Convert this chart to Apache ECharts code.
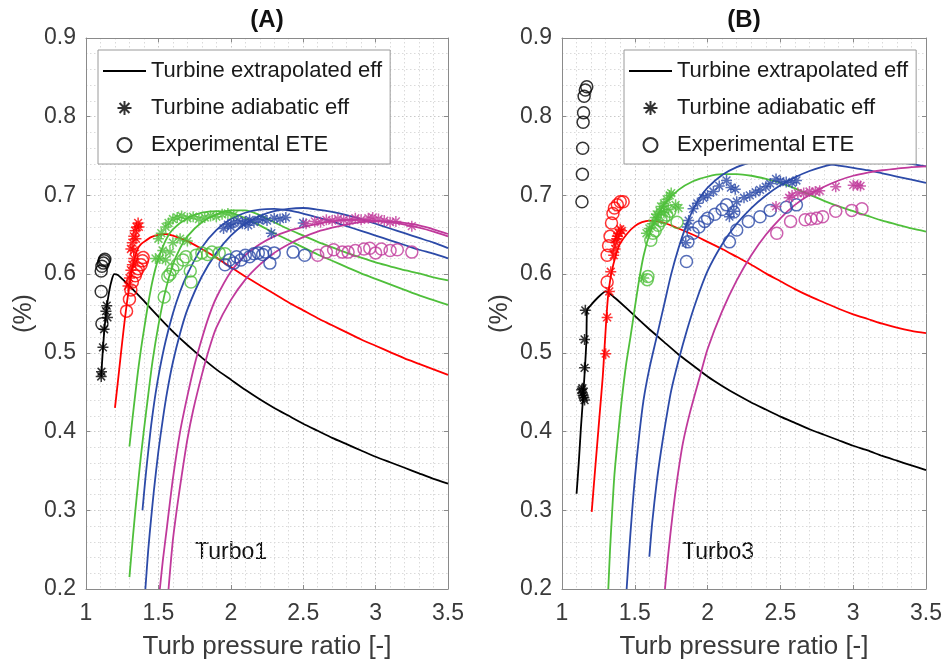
<!DOCTYPE html>
<html>
<head>
<meta charset="utf-8">
<script src="https://cdn.jsdelivr.net/npm/echarts@6/dist/echarts.min.js"></script>
<style>
  html, body { margin: 0; padding: 0; background: #ffffff; }
  #chart { width: 946px; height: 669px; }
</style>
</head>
<body>
<div id="chart"></div>
<script>
// ---------- Panel (A): Turbo1 ----------
const aBlackLine = [[1.105,0.47],[1.115,0.5],[1.125,0.525],[1.14,0.553],[1.16,0.578],[1.18,0.594],[1.195,0.6],[1.22,0.599],[1.25,0.594],[1.3,0.585],[1.4,0.566],[1.5,0.546],[1.6,0.527],[1.7,0.51],[1.8,0.494],[1.9,0.479],[2.0,0.466],[2.1,0.453],[2.2,0.441],[2.3,0.43],[2.4,0.42],[2.5,0.41],[2.6,0.401],[2.7,0.392],[2.8,0.384],[2.9,0.376],[3.0,0.368],[3.1,0.361],[3.2,0.354],[3.3,0.347],[3.4,0.34],[3.5,0.334]];
const aBlackStar = [[1.105,0.47],[1.107,0.476],[1.117,0.507],[1.125,0.53],[1.138,0.553],[1.143,0.56],[1.148,0.545]];
const aBlackCirc = [[1.11,0.537],[1.105,0.578],[1.105,0.604],[1.11,0.61],[1.12,0.614],[1.125,0.617],[1.13,0.619]];

const aRedLine = [[1.2,0.43],[1.22,0.463],[1.24,0.497],[1.26,0.53],[1.28,0.56],[1.3,0.585],[1.32,0.607],[1.34,0.623],[1.36,0.633],[1.38,0.638],[1.4,0.641],[1.45,0.647],[1.5,0.65],[1.55,0.651],[1.6,0.649],[1.7,0.642],[1.8,0.632],[1.9,0.621],[2.0,0.609],[2.1,0.597],[2.2,0.586],[2.3,0.575],[2.4,0.564],[2.5,0.554],[2.6,0.544],[2.7,0.535],[2.8,0.526],[2.9,0.517],[3.0,0.509],[3.1,0.501],[3.2,0.493],[3.3,0.486],[3.4,0.479],[3.5,0.472]];
const aRedStar = [[1.29,0.585],[1.3,0.595],[1.31,0.605],[1.32,0.612],[1.33,0.62],[1.31,0.632],[1.32,0.64],[1.33,0.648],[1.34,0.655],[1.35,0.66],[1.36,0.665],[1.365,0.66],[1.345,0.645],[1.33,0.63]];
const aRedCirc = [[1.28,0.553],[1.3,0.568],[1.31,0.58],[1.32,0.59],[1.34,0.598],[1.35,0.603],[1.36,0.607],[1.38,0.612],[1.39,0.617],[1.395,0.621]];

const aGreenLine1 = [[1.3,0.381],[1.32,0.415],[1.34,0.447],[1.36,0.478],[1.38,0.505],[1.4,0.529],[1.43,0.563],[1.46,0.592],[1.5,0.62],[1.55,0.643],[1.6,0.657],[1.7,0.671],[1.8,0.678],[1.9,0.68],[2.0,0.678],[2.1,0.671],[2.2,0.662],[2.3,0.652],[2.4,0.643],[2.5,0.634],[2.6,0.625],[2.7,0.617],[2.8,0.609],[2.9,0.601],[3.0,0.594],[3.1,0.587],[3.2,0.58],[3.3,0.573],[3.4,0.567],[3.5,0.561]];
const aGreenLine2 = [[1.3,0.215],[1.32,0.258],[1.34,0.298],[1.36,0.335],[1.38,0.37],[1.4,0.402],[1.43,0.447],[1.46,0.49],[1.5,0.535],[1.55,0.58],[1.6,0.612],[1.65,0.633],[1.7,0.648],[1.8,0.666],[1.9,0.676],[2.0,0.681],[2.1,0.681],[2.2,0.675],[2.3,0.666],[2.4,0.657],[2.5,0.649],[2.6,0.641],[2.7,0.634],[2.8,0.627],[2.9,0.621],[3.0,0.615],[3.1,0.61],[3.2,0.605],[3.3,0.601],[3.4,0.596],[3.5,0.592]];
const aGreenStar = [[1.48,0.62],[1.51,0.62],[1.53,0.63],[1.55,0.618],[1.58,0.628],[1.6,0.64],[1.65,0.645],[1.7,0.642],[1.5,0.645],[1.52,0.652],[1.55,0.66],[1.57,0.665],[1.6,0.67],[1.63,0.672],[1.66,0.674],[1.7,0.671],[1.74,0.673],[1.78,0.67],[1.82,0.672],[1.86,0.674],[1.9,0.673],[1.94,0.676],[1.98,0.677],[2.02,0.675]];
const aGreenCirc = [[1.54,0.571],[1.565,0.597],[1.58,0.6],[1.6,0.606],[1.63,0.612],[1.67,0.618],[1.69,0.622],[1.725,0.59],[1.72,0.604],[1.76,0.624],[1.8,0.627],[1.84,0.625],[1.87,0.628],[1.92,0.627],[1.96,0.626]];

const aBlueLine1 = [[1.39,0.3],[1.41,0.34],[1.43,0.375],[1.45,0.408],[1.48,0.448],[1.51,0.48],[1.55,0.515],[1.6,0.55],[1.65,0.578],[1.7,0.6],[1.8,0.634],[1.9,0.656],[2.0,0.67],[2.1,0.678],[2.2,0.682],[2.3,0.683],[2.4,0.681],[2.5,0.677],[2.6,0.672],[2.7,0.667],[2.8,0.661],[2.9,0.655],[3.0,0.649],[3.1,0.643],[3.2,0.637],[3.3,0.631],[3.4,0.626],[3.5,0.62]];
const aBlueLine2 = [[1.41,0.2],[1.43,0.25],[1.45,0.29],[1.47,0.327],[1.5,0.375],[1.53,0.415],[1.56,0.45],[1.6,0.488],[1.65,0.525],[1.7,0.555],[1.8,0.597],[1.9,0.627],[2.0,0.649],[2.1,0.664],[2.2,0.674],[2.3,0.68],[2.4,0.683],[2.5,0.684],[2.6,0.682],[2.7,0.679],[2.8,0.675],[2.9,0.67],[3.0,0.664],[3.1,0.658],[3.2,0.652],[3.3,0.646],[3.4,0.64],[3.5,0.633]];
const aBlueStar = [[1.95,0.658],[1.98,0.663],[2.0,0.66],[2.02,0.665],[2.05,0.668],[2.08,0.664],[2.1,0.667],[2.12,0.662],[2.13,0.669],[2.16,0.666],[2.19,0.669],[2.22,0.67],[2.25,0.668],[2.28,0.652],[2.3,0.671],[2.34,0.67],[2.38,0.672],[2.5,0.665]];
const aBlueCirc = [[1.96,0.612],[1.99,0.618],[2.02,0.614],[2.04,0.622],[2.07,0.618],[2.1,0.624],[2.13,0.622],[2.16,0.626],[2.19,0.627],[2.22,0.625],[2.24,0.628],[2.27,0.614],[2.3,0.627],[2.43,0.628],[2.51,0.624]];

const aMagLine1 = [[1.51,0.2],[1.53,0.235],[1.56,0.28],[1.6,0.34],[1.65,0.4],[1.7,0.445],[1.75,0.485],[1.8,0.518],[1.85,0.547],[1.9,0.57],[2.0,0.603],[2.1,0.624],[2.2,0.638],[2.3,0.648],[2.4,0.655],[2.5,0.66],[2.6,0.664],[2.7,0.667],[2.8,0.669],[2.9,0.669],[3.0,0.668],[3.1,0.666],[3.2,0.663],[3.3,0.659],[3.4,0.654],[3.5,0.648]];
const aMagLine2 = [[1.57,0.2],[1.6,0.262],[1.63,0.305],[1.66,0.343],[1.7,0.39],[1.74,0.427],[1.8,0.472],[1.85,0.505],[1.9,0.532],[2.0,0.567],[2.1,0.593],[2.2,0.612],[2.3,0.627],[2.4,0.638],[2.5,0.647],[2.6,0.654],[2.7,0.659],[2.8,0.663],[2.9,0.666],[3.0,0.667],[3.1,0.667],[3.2,0.665],[3.3,0.662],[3.4,0.657],[3.5,0.651]];
const aMagStar = [[2.52,0.664],[2.58,0.667],[2.62,0.666],[2.66,0.669],[2.7,0.668],[2.74,0.67],[2.78,0.669],[2.82,0.668],[2.86,0.671],[2.9,0.669],[2.95,0.671],[2.98,0.672],[3.02,0.67],[3.06,0.668],[3.1,0.666],[3.14,0.667],[3.25,0.661]];
const aMagCirc = [[2.6,0.624],[2.66,0.628],[2.71,0.631],[2.77,0.628],[2.81,0.628],[2.86,0.63],[2.92,0.632],[2.96,0.633],[3.0,0.627],[3.04,0.632],[3.1,0.63],[3.15,0.631],[3.25,0.628]];

// ---------- Panel (B): Turbo3 ----------
const bBlackLine = [[1.1,0.321],[1.115,0.36],[1.13,0.405],[1.145,0.444],[1.158,0.482],[1.168,0.516],[1.172,0.554],[1.2,0.561],[1.25,0.571],[1.3,0.578],[1.35,0.572],[1.4,0.564],[1.5,0.547],[1.6,0.53],[1.7,0.514],[1.8,0.498],[1.9,0.484],[2.0,0.47],[2.1,0.458],[2.2,0.447],[2.3,0.437],[2.4,0.428],[2.5,0.419],[2.6,0.411],[2.7,0.403],[2.8,0.396],[2.9,0.389],[3.0,0.382],[3.1,0.376],[3.2,0.369],[3.3,0.363],[3.4,0.357],[3.5,0.351]];
const bBlackStar = [[1.16,0.554],[1.155,0.517],[1.155,0.481],[1.135,0.453],[1.14,0.449],[1.145,0.446],[1.15,0.443],[1.155,0.44],[1.14,0.455]];
const bBlackCirc = [[1.137,0.692],[1.14,0.727],[1.142,0.76],[1.145,0.793],[1.148,0.805],[1.152,0.826],[1.16,0.834],[1.17,0.838]];

const bRedLine = [[1.204,0.298],[1.22,0.335],[1.24,0.38],[1.26,0.425],[1.28,0.47],[1.29,0.5],[1.3,0.53],[1.31,0.558],[1.32,0.578],[1.34,0.602],[1.37,0.624],[1.4,0.639],[1.45,0.652],[1.5,0.661],[1.55,0.666],[1.6,0.668],[1.7,0.665],[1.8,0.658],[1.9,0.65],[2.0,0.641],[2.1,0.632],[2.2,0.622],[2.3,0.612],[2.4,0.601],[2.5,0.591],[2.6,0.581],[2.7,0.572],[2.8,0.564],[2.9,0.556],[3.0,0.549],[3.1,0.543],[3.2,0.537],[3.3,0.532],[3.4,0.528],[3.5,0.525]];
const bRedStar = [[1.3,0.499],[1.31,0.545],[1.325,0.578],[1.335,0.603],[1.355,0.624],[1.365,0.632],[1.37,0.64],[1.38,0.648],[1.39,0.652],[1.4,0.657],[1.41,0.655],[1.375,0.645]];
const bRedCirc = [[1.31,0.59],[1.31,0.624],[1.32,0.636],[1.33,0.648],[1.34,0.665],[1.35,0.677],[1.36,0.684],[1.38,0.688],[1.4,0.692],[1.42,0.692]];

const bGreenLine = [[1.318,0.2],[1.33,0.25],[1.345,0.3],[1.36,0.345],[1.385,0.395],[1.41,0.44],[1.44,0.485],[1.47,0.52],[1.5,0.557],[1.53,0.593],[1.56,0.623],[1.6,0.65],[1.65,0.672],[1.7,0.688],[1.8,0.707],[1.9,0.718],[2.0,0.724],[2.1,0.727],[2.2,0.727],[2.3,0.725],[2.4,0.721],[2.5,0.716],[2.6,0.709],[2.7,0.701],[2.8,0.693],[2.9,0.686],[3.0,0.68],[3.1,0.674],[3.2,0.668],[3.3,0.663],[3.4,0.658],[3.5,0.654]];
const bGreenStar = [[1.56,0.595],[1.58,0.652],[1.6,0.658],[1.62,0.664],[1.64,0.672],[1.65,0.676],[1.66,0.668],[1.67,0.68],[1.68,0.686],[1.7,0.69],[1.72,0.695],[1.74,0.7],[1.75,0.703],[1.7,0.678],[1.73,0.682],[1.78,0.688],[1.8,0.684]];
const bGreenCirc = [[1.585,0.593],[1.59,0.597],[1.61,0.643],[1.625,0.652],[1.64,0.655],[1.66,0.662],[1.68,0.668],[1.7,0.672],[1.72,0.675],[1.74,0.68],[1.79,0.666]];

const bBlueLine1 = [[1.444,0.2],[1.46,0.245],[1.48,0.295],[1.5,0.34],[1.53,0.395],[1.56,0.44],[1.6,0.48],[1.65,0.52],[1.7,0.56],[1.75,0.6],[1.8,0.633],[1.85,0.66],[1.9,0.682],[1.95,0.698],[2.0,0.71],[2.1,0.726],[2.2,0.736],[2.3,0.742],[2.4,0.745],[2.5,0.746],[2.6,0.745],[2.7,0.744],[2.8,0.741],[2.9,0.738],[3.0,0.735],[3.1,0.732],[3.2,0.728],[3.3,0.724],[3.4,0.72],[3.5,0.716]];
const bBlueLine2 = [[1.6,0.241],[1.62,0.285],[1.65,0.335],[1.68,0.375],[1.71,0.41],[1.75,0.452],[1.8,0.49],[1.86,0.53],[1.92,0.565],[2.0,0.604],[2.1,0.638],[2.2,0.664],[2.3,0.684],[2.4,0.7],[2.5,0.713],[2.6,0.723],[2.7,0.731],[2.8,0.737],[2.9,0.741],[3.0,0.744],[3.1,0.745],[3.2,0.745],[3.3,0.743],[3.4,0.74],[3.5,0.737]];
const bBlueStar = [[1.85,0.64],[1.86,0.66],[1.87,0.668],[1.9,0.683],[1.93,0.69],[1.97,0.697],[2.0,0.7],[2.04,0.705],[2.08,0.712],[2.13,0.719],[2.16,0.71],[2.19,0.708],[2.15,0.673],[2.18,0.68],[2.2,0.692],[2.25,0.697],[2.29,0.7],[2.33,0.704],[2.36,0.707],[2.4,0.711],[2.43,0.715],[2.47,0.721],[2.5,0.718],[2.54,0.717],[2.58,0.716],[2.61,0.719]];
const bBlueCirc = [[1.855,0.616],[1.865,0.641],[1.9,0.652],[1.94,0.66],[1.98,0.667],[2.0,0.671],[2.05,0.676],[2.1,0.682],[2.13,0.688],[2.18,0.679],[2.15,0.641],[2.2,0.656],[2.28,0.667],[2.36,0.673],[2.43,0.681],[2.54,0.685],[2.61,0.688]];

const bMagLine = [[1.707,0.2],[1.73,0.245],[1.76,0.295],[1.79,0.338],[1.83,0.385],[1.88,0.425],[1.95,0.472],[2.0,0.505],[2.1,0.553],[2.2,0.592],[2.3,0.624],[2.4,0.65],[2.5,0.671],[2.6,0.688],[2.7,0.701],[2.8,0.711],[2.9,0.719],[3.0,0.725],[3.1,0.729],[3.2,0.732],[3.3,0.734],[3.4,0.736],[3.5,0.737]];
const bMagStar = [[2.47,0.686],[2.56,0.697],[2.58,0.7],[2.62,0.703],[2.66,0.703],[2.7,0.705],[2.74,0.705],[2.77,0.706],[2.88,0.711],[3.0,0.713],[3.03,0.713],[3.05,0.712]];
const bMagCirc = [[2.475,0.652],[2.57,0.667],[2.67,0.669],[2.71,0.67],[2.75,0.671],[2.79,0.673],[2.88,0.68],[2.99,0.681],[3.06,0.683]];

// ---------- Axes, labels, names ----------
const panelTitles = ['(A)', '(B)'];
const panelTags = ['Turbo1', 'Turbo3'];
const xAxisName = 'Turb pressure ratio [-]';
const yAxisName = '(%)';
const xRange = [1, 3.5, 0.5];
const yRange = [0.2, 0.9, 0.1];
const legendNames = ['Turbine extrapolated eff', 'Turbine adiabatic eff', 'Experimental ETE'];

const COLORS = { black: '#000000', red: '#ff0000', green: '#4fbf3b', blue: '#2c4aa8', magenta: '#c0399b' };
const FONT = '"Liberation Sans", Arial, Helvetica, sans-serif';
const STAR = 'path://M5,0L5,10M0,5L10,5M1.46,1.46L8.54,8.54M1.46,8.54L8.54,1.46';
const CLEAR = 'rgba(0,0,0,0)';

const grids = [
  { left: 86, top: 38, width: 362, height: 551 },
  { left: 562, top: 38, width: 364, height: 551 }
];

function lineS(data, color, g, smooth) {
  return {
    type: 'line', xAxisIndex: g, yAxisIndex: g, data: data,
    symbol: 'none', showSymbol: false,
    smooth: smooth,
    lineStyle: { color: color, width: 1.8 }, itemStyle: { color: color },
    silent: true, z: 2, clip: true
  };
}
function starS(data, color, g) {
  return {
    type: 'scatter', xAxisIndex: g, yAxisIndex: g, data: data,
    symbol: STAR, symbolSize: 11,
    itemStyle: { color: CLEAR, borderColor: color, borderWidth: 1.5 },
    silent: true, z: 3
  };
}
function circS(data, color, g) {
  return {
    type: 'scatter', xAxisIndex: g, yAxisIndex: g, data: data,
    symbol: 'circle', symbolSize: 12,
    itemStyle: { color: CLEAR, borderColor: color, borderWidth: 1.5 },
    silent: true, z: 3
  };
}

// legend sample for the solid line: plain line, no marker
const legendLine = {
  type: 'line', name: legendNames[0], xAxisIndex: 0, yAxisIndex: 0, data: [],
  symbol: 'circle', symbolSize: 0, showSymbol: false,
  lineStyle: { color: COLORS.black, width: 1.6 },
  itemStyle: { color: CLEAR, borderColor: CLEAR, borderWidth: 0 }
};

const S = 0.25; // curve smoothing
const series = [
  // Panel A
  lineS(aBlackLine, COLORS.black, 0, 0.15),
  lineS(aRedLine, COLORS.red, 0, S),
  lineS(aGreenLine1, COLORS.green, 0, S),
  lineS(aGreenLine2, COLORS.green, 0, S),
  lineS(aBlueLine1, COLORS.blue, 0, S),
  lineS(aBlueLine2, COLORS.blue, 0, S),
  lineS(aMagLine1, COLORS.magenta, 0, S),
  lineS(aMagLine2, COLORS.magenta, 0, S),
  starS(aBlackStar, COLORS.black, 0), circS(aBlackCirc, COLORS.black, 0),
  starS(aRedStar, COLORS.red, 0), circS(aRedCirc, COLORS.red, 0),
  starS(aGreenStar, COLORS.green, 0), circS(aGreenCirc, COLORS.green, 0),
  starS(aBlueStar, COLORS.blue, 0), circS(aBlueCirc, COLORS.blue, 0),
  starS(aMagStar, COLORS.magenta, 0), circS(aMagCirc, COLORS.magenta, 0),
  // Panel B
  lineS(bBlackLine, COLORS.black, 1, 0.15),
  lineS(bRedLine, COLORS.red, 1, S),
  lineS(bGreenLine, COLORS.green, 1, S),
  lineS(bBlueLine1, COLORS.blue, 1, S),
  lineS(bBlueLine2, COLORS.blue, 1, S),
  lineS(bMagLine, COLORS.magenta, 1, S),
  starS(bBlackStar, COLORS.black, 1), circS(bBlackCirc, COLORS.black, 1),
  starS(bRedStar, COLORS.red, 1), circS(bRedCirc, COLORS.red, 1),
  starS(bGreenStar, COLORS.green, 1), circS(bGreenCirc, COLORS.green, 1),
  starS(bBlueStar, COLORS.blue, 1), circS(bBlueCirc, COLORS.blue, 1),
  starS(bMagStar, COLORS.magenta, 1), circS(bMagCirc, COLORS.magenta, 1),
  // Legend keys (black samples)
  legendLine,
  Object.assign(starS([], COLORS.black, 0), { name: legendNames[1] }),
  Object.assign(circS([], COLORS.black, 0), { name: legendNames[2] })
];

const tickColor = '#8a8a8a';
const labelColor = '#3a3a3a';

function mainX(g) {
  return {
    type: 'value', gridIndex: g, min: xRange[0], max: xRange[1], interval: xRange[2],
    name: xAxisName, nameLocation: 'middle', nameGap: 45,
    nameTextStyle: { fontFamily: FONT, fontSize: 26, color: labelColor },
    axisLine: { show: true, lineStyle: { color: tickColor, width: 1 } },
    axisTick: { show: true, inside: true, length: 4, lineStyle: { color: tickColor } },
    axisLabel: { fontFamily: FONT, fontSize: 23, color: labelColor, margin: 13,
      formatter: v => String(+v.toFixed(1)) },
    splitLine: { show: true, lineStyle: { color: '#c9c9c9', type: [1.5, 2.5], width: 1 } },
    minorTick: { show: false, splitNumber: 5 },
    minorSplitLine: { show: true, lineStyle: { color: '#dadada', type: [1.5, 2.5], width: 1 } }
  };
}
function mainY(g) {
  return {
    type: 'value', gridIndex: g, min: yRange[0], max: yRange[1], interval: yRange[2],
    name: yAxisName, nameLocation: 'middle', nameGap: 49, nameRotate: 90,
    nameTextStyle: { fontFamily: FONT, fontSize: 25, color: labelColor },
    axisLine: { show: true, lineStyle: { color: tickColor, width: 1 } },
    axisTick: { show: true, inside: true, length: 4, lineStyle: { color: tickColor } },
    axisLabel: { fontFamily: FONT, fontSize: 23, color: labelColor, margin: 10,
      formatter: v => v.toFixed(1) },
    splitLine: { show: true, lineStyle: { color: '#c9c9c9', type: [1.5, 2.5], width: 1 } },
    minorTick: { show: false, splitNumber: 5 },
    minorSplitLine: { show: true, lineStyle: { color: '#dadada', type: [1.5, 2.5], width: 1 } }
  };
}
function boxX(g) {
  return {
    type: 'value', gridIndex: g, position: 'top', min: xRange[0], max: xRange[1], interval: xRange[2],
    axisLine: { show: true, onZero: false, lineStyle: { color: tickColor, width: 1 } },
    axisTick: { show: true, inside: true, length: 4, lineStyle: { color: tickColor } },
    axisLabel: { show: false }, splitLine: { show: false }
  };
}
function boxY(g) {
  return {
    type: 'value', gridIndex: g, position: 'right', min: yRange[0], max: yRange[1], interval: yRange[2],
    axisLine: { show: true, onZero: false, lineStyle: { color: tickColor, width: 1 } },
    axisTick: { show: true, inside: true, length: 4, lineStyle: { color: tickColor } },
    axisLabel: { show: false }, splitLine: { show: false }
  };
}

function legendAt(left) {
  return {
    orient: 'vertical', left: left, top: 50,
    data: legendNames,
    itemWidth: 43, itemHeight: 14, itemGap: 15,
    padding: [10, 8, 8, 4],
    backgroundColor: '#ffffff', borderColor: '#9a9a9a', borderWidth: 1, borderRadius: 0,
    textStyle: { fontFamily: FONT, fontSize: 22, color: '#1a1a1a' },
    selectedMode: false
  };
}

const graphics = [];
panelTitles.forEach((t, i) => {
  const g = grids[i];
  graphics.push({
    type: 'text', x: g.left + g.width / 2, y: 20,
    style: { text: t, fontFamily: FONT, fontSize: 24, fontWeight: 'bold', fill: '#111',
      align: 'center', verticalAlign: 'middle', textAlign: 'center', textVerticalAlign: 'middle' }
  });
});
graphics.push({ type: 'text', x: 195, y: 553,
  style: { text: panelTags[0], fontFamily: FONT, fontSize: 23, fill: '#111', verticalAlign: 'middle', textVerticalAlign: 'middle' } });
graphics.push({ type: 'text', x: 682, y: 553,
  style: { text: panelTags[1], fontFamily: FONT, fontSize: 23, fill: '#111', verticalAlign: 'middle', textVerticalAlign: 'middle' } });

const chart = echarts.init(document.getElementById('chart'), null, { renderer: 'canvas' });
chart.setOption({
  animation: false,
  backgroundColor: '#ffffff',
  grid: grids,
  xAxis: [mainX(0), mainX(1), boxX(0), boxX(1)],
  yAxis: [mainY(0), mainY(1), boxY(0), boxY(1)],
  legend: [legendAt(98), legendAt(624)],
  graphic: graphics,
  series: series
});
</script>
</body>
</html>
